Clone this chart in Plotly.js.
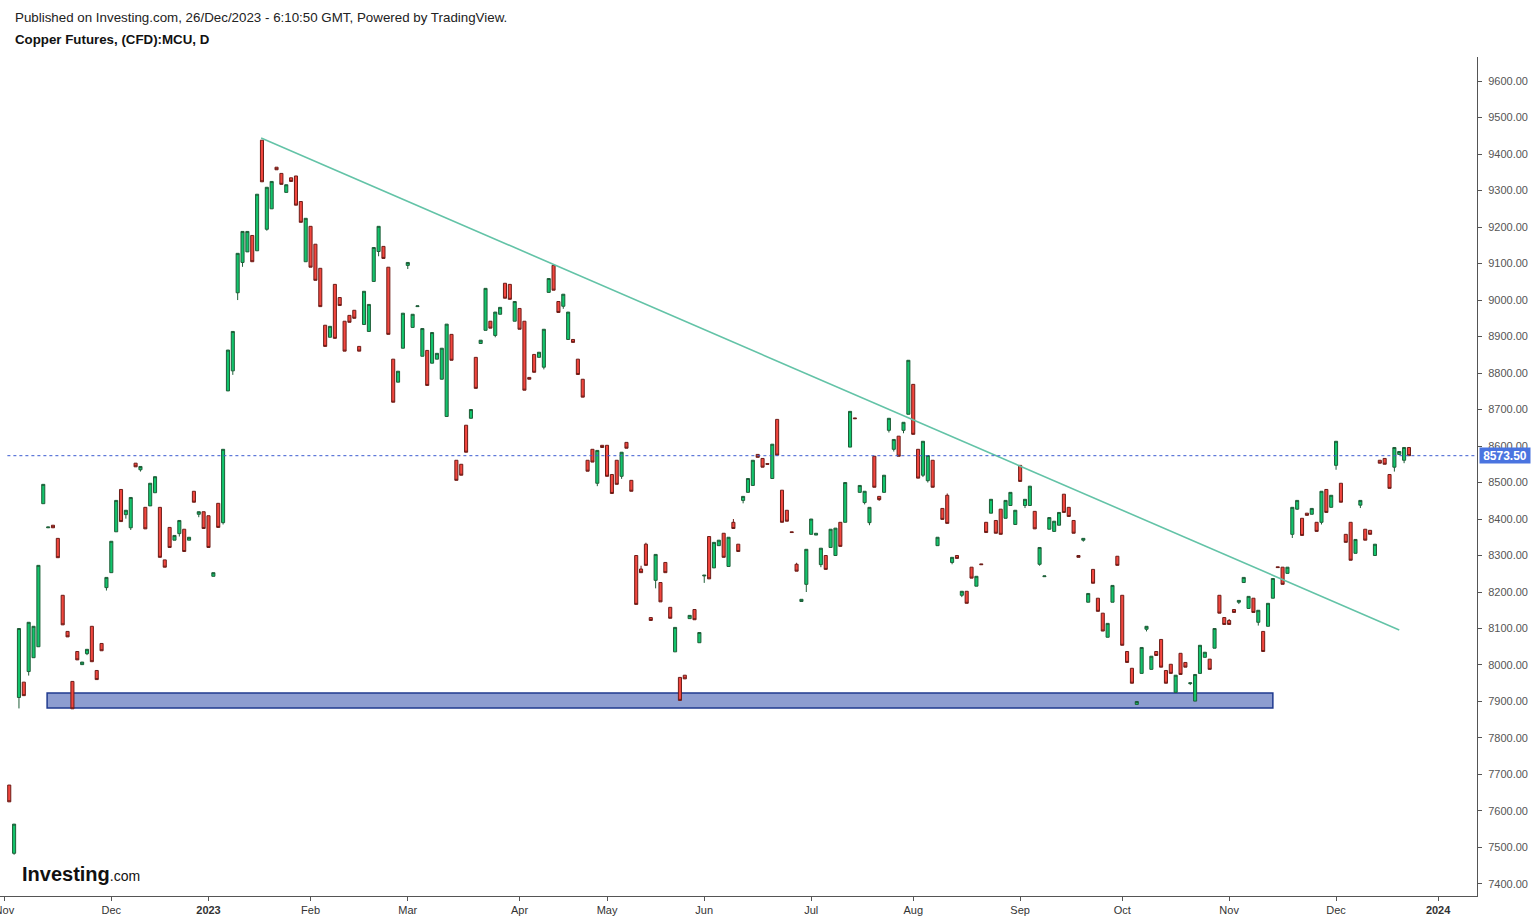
<!DOCTYPE html>
<html><head><meta charset="utf-8">
<script src="https://cdn.plot.ly/plotly-3.0.1.min.js"></script>
<style>html,body{margin:0;padding:0;background:#fff}#chart{width:1539px;height:921px}</style>
</head><body><div id="chart"></div>
<script>
// ---------- data ----------
const firstDate = '2022-11-02';
const holidays = ['2022-12-26','2022-12-27','2023-01-02','2023-04-07','2023-04-10','2023-05-01','2023-05-08','2023-05-29','2023-08-28'];

const opens = [
7671,7484,7911,7953,7982,8020,8050,8442,8376,8383,
8347,8191,8092,7955,8037,8001,8031,8106,7985,8059,
8212,8253,8365,8481,8412,8376,8553,8535,8432,8436,
8472,8432,8288,8377,8342,8360,8372,8342,8476,8413,
8420,8409,8243,8443,8390,8751,8806,9020,9103,9132,
9177,9135,9438,9194,9250,9364,9347,9295,9335,9340,
9270,9105,9202,9153,9087,8931,8898,9043,9007,8942,
8958,8972,8873,8933,8914,9051,9133,9147,9090,8838,
8775,8868,9095,8925,8982,8846,8862,8827,8838,8783,
8681,8906,8561,8550,8657,8676,8843,8881,8917,8942,
8903,8961,9046,9043,8942,8977,8942,8788,8851,8843,
8816,9021,9095,8996,8983,8892,8892,8838,8783,8561,
8591,8498,8602,8602,8522,8561,8517,8610,8506,8300,
8263,8331,8130,8232,8226,8281,8158,8036,7966,7972,
8127,8152,8061,8244,8352,8266,8327,8361,8270,8391,
8331,8451,8473,8492,8577,8566,8552,8511,8673,8479,
8424,8365,8276,8174,8221,8358,8356,8275,8300,8322,
8300,8391,8391,8597,8677,8473,8445,8390,8572,8462,
8473,8643,8591,8627,8643,8687,8769,8591,8520,8505,
8561,8327,8429,8465,8281,8300,8191,8202,8268,8216,
8277,8391,8416,8396,8427,8402,8437,8385,8547,8437,
8437,8421,8276,8242,8372,8366,8383,8468,8432,8396,
8300,8342,8172,8262,8183,8142,8076,8172,8298,8191,
8037,7991,7892,7977,8098,7988,8037,8070,7985,8002,
7925,8032,8007,7949,7901,7977,8021,8016,8046,8191,
8130,8122,8152,8172,8226,8155,8183,8117,8092,8106,
8183,8269,8268,8251,8358,8427,8402,8416,8413,8391,
8391,8481,8432,8547,8498,8358,8391,8306,8438,8372,
8369,8300,8561,8566,8522,8542,8577,8561,8596];

const closes = [
7625,7564,8100,7916,8117,8106,8273,8495,8378,8376,
8294,8110,8077,7880,8014,8008,8043,8009,7960,8039,
8240,8339,8451,8393,8424,8459,8543,8544,8373,8498,
8516,8295,8268,8322,8355,8396,8311,8350,8446,8420,
8374,8322,8253,8377,8591,8863,8914,9128,9188,9188,
9105,9290,9324,9309,9325,9357,9317,9316,9325,9260,
9213,9224,9090,9054,8982,8873,8928,8895,8985,8860,
8939,8950,8860,9024,8988,9144,9202,9114,8906,8720,
8805,8964,9103,8961,8984,8922,8766,8911,8854,8868,
8934,8835,8506,8520,8583,8700,8758,8890,9032,8923,
8967,8980,9005,9002,8996,8920,8753,8783,8802,8857,
8920,9059,9027,8966,9016,8967,8884,8796,8734,8531,
8556,8588,8596,8517,8470,8495,8583,8594,8476,8166,
8253,8273,8122,8303,8173,8253,8128,8103,7903,7962,
8136,8124,8089,8246,8236,8336,8342,8295,8350,8374,
8311,8462,8511,8561,8569,8542,8550,8605,8575,8391,
8394,8363,8257,8180,8317,8400,8361,8320,8262,8372,
8375,8325,8500,8695,8675,8492,8476,8432,8487,8453,
8520,8676,8618,8572,8665,8835,8632,8512,8613,8574,
8487,8350,8399,8388,8295,8292,8202,8169,8238,8243,
8275,8363,8454,8361,8358,8451,8473,8424,8503,8454,
8490,8373,8322,8244,8404,8394,8418,8418,8407,8361,
8295,8347,8196,8224,8147,8093,8114,8218,8273,8054,
8007,7950,7900,8048,8106,8024,8026,7994,7950,7977,
7972,7974,7994,7951,7974,8054,8035,7988,8100,8142,
8111,8111,8144,8177,8240,8188,8144,8150,8037,8169,
8237,8267,8221,8268,8432,8451,8355,8410,8429,8366,
8476,8418,8465,8613,8446,8336,8287,8344,8451,8342,
8358,8331,8553,8550,8484,8596,8585,8596,8573.5];

const highs = [
7671,7564,8100,7953,8117,8106,8273,8495,8378,8383,
8347,8191,8092,7955,8037,8008,8043,8106,7985,8059,
8240,8339,8451,8481,8424,8459,8553,8544,8432,8498,
8516,8432,8288,8377,8355,8396,8372,8350,8476,8420,
8420,8409,8253,8443,8591,8863,8914,9128,9188,9188,
9177,9290,9438,9309,9325,9364,9347,9316,9335,9340,
9270,9224,9202,9153,9087,8931,8928,9043,9007,8942,
8958,8972,8873,9024,8988,9144,9202,9147,9090,8838,
8805,8964,9103,8961,8984,8922,8862,8911,8854,8868,
8934,8906,8561,8550,8657,8700,8843,8890,9032,8942,
8967,8980,9046,9043,8996,8977,8942,8788,8851,8857,
8920,9059,9095,8996,9016,8967,8892,8838,8783,8561,
8591,8588,8602,8602,8522,8561,8583,8610,8506,8300,
8272,8335,8130,8303,8226,8281,8158,8103,7966,7972,
8136,8152,8089,8246,8352,8336,8342,8361,8350,8400,
8331,8462,8511,8561,8577,8566,8552,8605,8673,8479,
8424,8365,8280,8180,8317,8400,8361,8320,8300,8372,
8375,8391,8500,8695,8677,8492,8476,8432,8572,8462,
8520,8676,8618,8627,8665,8835,8769,8591,8613,8574,
8561,8350,8429,8470,8295,8300,8202,8202,8268,8243,
8277,8391,8454,8396,8427,8451,8473,8424,8547,8454,
8490,8421,8322,8244,8404,8394,8418,8468,8432,8396,
8300,8347,8196,8262,8183,8142,8114,8218,8298,8191,
8037,7991,7900,8048,8106,8024,8037,8070,7985,8002,
7972,8032,8007,7951,7974,8054,8035,8016,8100,8191,
8130,8126,8152,8177,8240,8188,8183,8150,8092,8169,
8237,8269,8268,8268,8432,8451,8402,8416,8429,8391,
8476,8481,8465,8613,8498,8358,8391,8344,8451,8372,
8369,8331,8561,8566,8522,8596,8585,8596,8596];

const lows = [
7625,7480,7881,7916,7971,8020,8050,8442,8376,8376,
8294,8110,8077,7880,8014,8001,8027,8009,7960,8039,
8204,8253,8365,8393,8401,8370,8543,8530,8373,8436,
8472,8295,8268,8322,8342,8352,8311,8342,8446,8405,
8374,8322,8243,8377,8385,8751,8795,9000,9091,9132,
9105,9135,9324,9190,9250,9357,9317,9295,9325,9260,
9213,9105,9090,9054,8982,8873,8898,8895,8985,8860,
8939,8950,8860,8933,8914,9051,9120,9114,8906,8720,
8775,8868,9085,8925,8982,8846,8766,8827,8838,8783,
8681,8835,8506,8520,8583,8676,8758,8881,8917,8923,
8898,8961,9005,9002,8942,8920,8753,8783,8802,8843,
8810,9021,9027,8966,8976,8892,8884,8796,8734,8531,
8556,8490,8596,8517,8470,8495,8510,8594,8476,8166,
8253,8273,8122,8210,8173,8253,8128,8036,7903,7962,
8127,8124,8061,8225,8236,8266,8327,8295,8270,8374,
8311,8443,8473,8492,8569,8542,8550,8511,8575,8391,
8394,8363,8257,8174,8200,8358,8356,8268,8262,8322,
8300,8325,8391,8597,8675,8473,8440,8383,8487,8450,
8473,8637,8585,8572,8635,8687,8632,8512,8515,8500,
8487,8327,8399,8388,8276,8292,8186,8169,8238,8216,
8275,8363,8416,8361,8358,8402,8437,8385,8503,8430,
8437,8373,8272,8242,8372,8366,8383,8418,8407,8361,
8295,8338,8172,8224,8147,8093,8076,8172,8273,8054,
8007,7950,7892,7977,8092,7988,8026,7994,7950,7977,
7925,7974,7994,7945,7901,7977,8021,7988,8046,8142,
8111,8111,8144,8167,8226,8155,8144,8108,8037,8106,
8183,8267,8221,8251,8348,8425,8355,8410,8413,8366,
8385,8418,8432,8535,8446,8336,8287,8306,8430,8342,
8358,8300,8553,8550,8484,8530,8577,8553,8573.5];

const lastPrice = 8573.5;
const trendDates = ['2023-01-18 08:00', '2023-12-20 12:00'];
const trendValues = [9444, 8096];
const zoneDates = ['2022-11-14 07:00', '2023-11-14 12:00'];
const zoneValues = [7882, 7923];
const tickDates = ['2022-11-01','2022-12-01','2023-01-03','2023-02-01','2023-03-01','2023-04-03','2023-05-02','2023-06-01','2023-07-03','2023-08-01','2023-09-01','2023-10-02','2023-11-01','2023-12-01','2024-01-01'];
const tickLabels = ['Nov','Dec','<b>2023</b>','Feb','Mar','Apr','May','Jun','Jul','Aug','Sep','Oct','Nov','Dec','<b>2024</b>'];

// ---------- trading calendar (weekdays minus exchange holidays) ----------
function tradingDays(start, n, skip) {
  const out = [];
  const d = new Date(start + 'T00:00:00Z');
  while (out.length < n) {
    const wd = d.getUTCDay();
    const s = d.toISOString().slice(0, 10);
    if (wd !== 0 && wd !== 6 && skip.indexOf(s) < 0) out.push(s + ' 12:00');
    d.setUTCDate(d.getUTCDate() + 1);
  }
  return out;
}
const dates = tradingDays(firstDate, opens.length, holidays);

const FONT = 'Arial, "Liberation Sans", sans-serif';

const traces = [
  {
    type: 'candlestick', x: dates, open: opens, high: highs, low: lows, close: closes,
    increasing: { line: { color: '#1e5e38', width: 1 }, fillcolor: '#12c46c' },
    decreasing: { line: { color: '#6e1d18', width: 1 }, fillcolor: '#f2463e' },
    whiskerwidth: 0, hoverinfo: 'skip', showlegend: false
  },
  {
    type: 'scatter', mode: 'lines', x: trendDates, y: trendValues,
    line: { color: '#63c3a7', width: 1.6 }, hoverinfo: 'skip', showlegend: false
  }
];

const layout = {
  width: 1539, height: 921,
  margin: { l: 0, r: 62, t: 57, b: 25 },
  paper_bgcolor: '#ffffff', plot_bgcolor: '#ffffff',
  font: { family: FONT, size: 11, color: '#333' },
  showlegend: false,
  boxgap: 0.3, boxgroupgap: 0.1,
  xaxis: {
    type: 'date',
    range: ['2022-10-31 14:24', '2024-01-11 12:00'],
    rangebreaks: [{ bounds: ['sat', 'mon'] }, { values: holidays }],
    rangeslider: { visible: false },
    tickvals: tickDates.map(d => d + ' 12:00'), ticktext: tickLabels,
    ticklabeloverflow: 'allow',
    showgrid: false, zeroline: false,
    showline: true, linecolor: '#555', linewidth: 1,
    ticks: 'outside', ticklen: 4, tickcolor: '#555',
    tickfont: { family: FONT, size: 11, color: '#333' },
    fixedrange: true
  },
  yaxis: {
    side: 'right',
    range: [7367, 9666],
    dtick: 100, tick0: 0, tickformat: '.2f',
    showgrid: false, zeroline: false,
    showline: true, linecolor: '#555', linewidth: 1,
    ticks: 'outside', ticklen: 4, tickcolor: '#555',
    ticklabelstandoff: 4,
    tickfont: { family: FONT, size: 11, color: '#555' },
    fixedrange: true
  },
  shapes: [
    {
      type: 'rect', xref: 'x', yref: 'y', layer: 'below',
      x0: zoneDates[0], x1: zoneDates[1], y0: zoneValues[0], y1: zoneValues[1],
      fillcolor: '#8d9dd0', line: { color: '#1f3a8f', width: 1.5 }
    },
    {
      type: 'line', xref: 'paper', yref: 'y', x0: 0.005, x1: 1, y0: lastPrice, y1: lastPrice,
      line: { color: '#3b5bd0', width: 1, dash: 'dot' }
    }
  ],
  annotations: [
    {
      xref: 'paper', yref: 'y', x: 1, y: lastPrice, xanchor: 'left', yanchor: 'middle', xshift: 2,
      text: '<b>8573.50</b>', showarrow: false, bgcolor: '#4a74e0', borderpad: 1,
      width: 48, height: 13, align: 'center',
      font: { family: FONT, size: 12, color: '#ffffff' }
    },
    {
      xref: 'paper', yref: 'paper', x: 13 / 1477, y: (896 - 17) / 839, xanchor: 'left', yanchor: 'middle',
      text: 'Published on Investing.com, 26/Dec/2023 - 6:10:50 GMT, Powered by TradingView.', showarrow: false,
      font: { family: FONT, size: 13.35, color: '#222' }
    },
    {
      xref: 'paper', yref: 'paper', x: 13 / 1477, y: (896 - 40) / 839, xanchor: 'left', yanchor: 'middle',
      text: '<b>Copper Futures, (CFD):MCU, D</b>', showarrow: false,
      font: { family: FONT, size: 13.3, color: '#111' }
    },
    {
      xref: 'paper', yref: 'paper', x: 20 / 1477, y: (896 - 874) / 839, xanchor: 'left', yanchor: 'middle',
      text: '<b>Investing</b><span style="font-size:14px">.com</span>', showarrow: false,
      font: { family: FONT, size: 20, color: '#111' }
    }
  ]
};

Plotly.newPlot('chart', traces, layout, { displayModeBar: false, staticPlot: true });
</script>
</body></html>
